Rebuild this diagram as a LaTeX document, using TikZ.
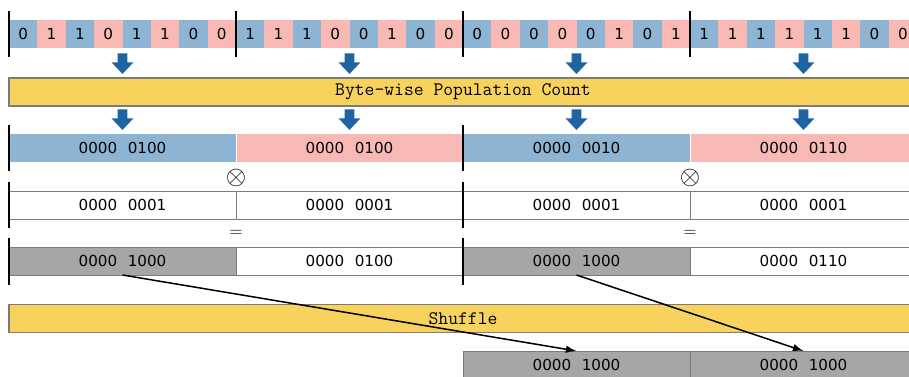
\documentclass[tikz,border=0pt]{standalone}
\usepackage{fontspec}
\newfontfamily\dv{DejaVu Sans}
\usetikzlibrary{arrows.meta}
\definecolor{cblue}{HTML}{8DB4D2}
\definecolor{cpink}{HTML}{F8B8B4}
\definecolor{cyel}{HTML}{F7D35E}
\definecolor{cgray}{HTML}{A5A6A5}
\definecolor{cline}{HTML}{7B7B7B}
\definecolor{carrow}{HTML}{1F64A2}
\newcommand{\bw}[2]{#1\hspace{0.7em}#2}
\begin{document}
\begin{tikzpicture}[x=0.66pt,y=-0.66pt,
  cell/.style={minimum width=28.375*0.66pt, minimum height=28*0.66pt, inner sep=0pt, outer sep=0pt, font=\dv\fontsize{10}{12}\selectfont},
  word/.style={minimum width=227*0.66pt, minimum height=28*0.66pt, inner sep=0pt, outer sep=0pt, font=\dv\fontsize{10}{12}\selectfont},
  wbox/.style={word, draw=cline, line width=0.66pt, fill=white},
  gbox/.style={word, draw=cline, line width=0.66pt, fill=cgray},
  bar/.style={minimum width=908*0.66pt, minimum height=28*0.66pt, inner sep=0pt, outer sep=0pt, fill=cyel, draw=cline, line width=0.7pt, font=\ttfamily\fontsize{12.6}{14}\selectfont},
  sepline/.style={line width=0.75pt, black},
  opsym/.style={inner sep=0pt},
  flow/.style={line width=1pt, black, -{Latex[length=7pt,width=5pt]}},
  blockarrow/.pic={\fill[carrow] (-4.8,0) -- (-4.8,9) -- (-10.8,9) -- (0,20.5) -- (10.8,9) -- (4.8,9) -- (4.8,0) -- cycle;}
]
\useasboundingbox (0,0) rectangle (909,377);
\clip (0,0) rectangle (909,377);

% top bit row
\foreach \bits [count=\b from 0] in {{0,1,1,0,1,1,0,0},{1,1,1,0,0,1,0,0},{0,0,0,0,0,1,0,1},{1,1,1,1,1,1,0,0}} {
  \foreach \v [count=\i from 0] in \bits {
    \ifodd\i \def\cc{cpink}\else\def\cc{cblue}\fi
    \node[cell, fill=\cc] (bit-\b-\i) at ({9+(8*\b+\i+0.5)*28.375},34) {\v};
  }
}
\foreach \x in {9,236,463,690} \draw[sepline] (\x,11) -- (\x,57);

% arrows into popcount bar
\foreach \x in {122.5,349.5,576.5,803.5} \pic at (\x,53.5) {blockarrow};
\node[bar] (bpc) at (463,92) {Byte-wise Population Count};
\foreach \x in {122.5,349.5,576.5,803.5} \pic at (\x,109.5) {blockarrow};

% popcount results
\node[word, fill=cblue] (p1) at (122.5,148) {\bw{0000}{0100}};
\node[word, fill=cpink] (p2) at (349.5,148) {\bw{0000}{0100}};
\node[word, fill=cblue] (p3) at (576.5,148) {\bw{0000}{0010}};
\node[word, fill=cpink] (p4) at (803.5,148) {\bw{0000}{0110}};
\draw[white, line width=0.5pt] (236,134) -- (236,162) (690,134) -- (690,162);
\foreach \x in {9,463} \draw[sepline] (\x,125) -- (\x,171);

\node[opsym, font=\fontsize{16}{18}\selectfont] (ot1) at (236,178) {$\otimes$};
\node[opsym, font=\fontsize{16}{18}\selectfont] (ot2) at (690,178) {$\otimes$};

% multiplier
\node[wbox] (m1) at (122.5,205) {\bw{0000}{0001}};
\node[wbox] (m2) at (349.5,205) {\bw{0000}{0001}};
\node[wbox] (m3) at (576.5,205) {\bw{0000}{0001}};
\node[wbox] (m4) at (803.5,205) {\bw{0000}{0001}};
\foreach \x in {9,463} \draw[sepline] (\x,182) -- (\x,228);

\node[opsym, font=\fontsize{11}{13}\selectfont] (eq1) at (236,233) {$=$};
\node[opsym, font=\fontsize{11}{13}\selectfont] (eq2) at (690,233) {$=$};

% products
\node[gbox] (r1) at (122.5,261) {\bw{0000}{1000}};
\node[wbox] (r2) at (349.5,261) {\bw{0000}{0100}};
\node[gbox] (r3) at (576.5,261) {\bw{0000}{1000}};
\node[wbox] (r4) at (803.5,261) {\bw{0000}{0110}};
\foreach \x in {9,463} \draw[sepline] (\x,238) -- (\x,285);

% shuffle
\node[bar] (shuf) at (463,318.5) {Shuffle};

% shuffled result
\node[gbox] (s1) at (576.5,365) {\bw{0000}{1000}};
\node[gbox] (s2) at (803.5,365) {\bw{0000}{1000}};

\draw[flow] (r1.south) -- (s1.north);
\draw[flow] (r3.south) -- (s2.north);
\end{tikzpicture}
\end{document}
